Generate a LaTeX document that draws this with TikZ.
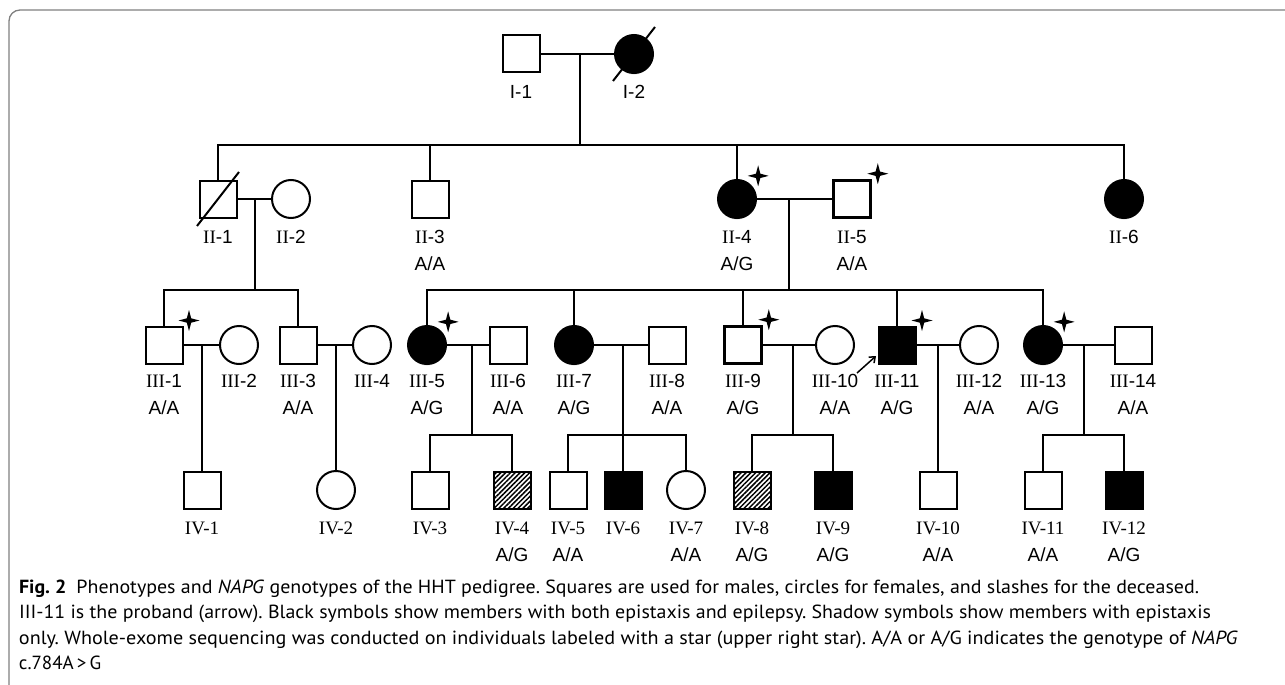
\documentclass[tikz,border=0pt]{standalone}
\usepackage{fontspec}
\usepackage{graphicx}
\setmainfont{Liberation Sans}
\newfontfamily\romfont{Liberation Serif}
\newfontfamily\capfont{PT Sans}
\usepackage{tikz}
\usetikzlibrary{arrows.meta,calc,positioning,shapes.geometric,patterns.meta,shadows}

\newcommand{\rn}[1]{{\romfont #1}}
\newcommand{\gAA}{A/A}
\newcommand{\gAG}{A/G}
\newcommand{\capline}[2]{\resizebox{#1}{\height}{#2}}
\frenchspacing

\begin{document}
\begin{tikzpicture}[x=1pt, y=-1pt, line width=2pt,
    sq/.style={draw, rectangle, minimum size=37pt, inner sep=0pt, line width=2pt, fill=white},
    ci/.style={draw, circle, minimum size=38pt, inner sep=0pt, line width=2pt, fill=white},
    aff/.style={fill=black, drop shadow={shadow xshift=0pt, shadow yshift=-1.5pt, opacity=0.3}},
    hatch/.style={pattern={Lines[angle=45, distance=3.4pt, line width=1.5pt]}},
    hsq/.style={sq, hatch},
    asq/.style={sq, aff},
    thick sq/.style={line width=3.6pt},
    wes/.style={star, star points=4, star point ratio=3.4, minimum size=21pt, inner sep=0pt, fill=black},
    lbl/.style={anchor=base, inner sep=0pt, font=\fontsize{19}{19}\selectfont},
    capt/.style={anchor=base west, inner sep=0pt, font=\capfont\fontsize{19}{25}\selectfont},
    pba/.style={-{Straight Barb[length=5pt,width=8pt]}, line width=1.5pt}]
\useasboundingbox (0,0) rectangle (1285,685);
\draw[black!50, line width=1.3pt, rounded corners=11pt] (9,10) rectangle (1310,696);

% generation I
\node[sq] (I1) at (521,54) {};
\node[ci, aff] (I2) at (634,54) {};
% generation II
\node[sq] (II1) at (218,199) {};
\node[ci] (II2) at (291,199) {};
\node[sq] (II3) at (430,199) {};
\node[ci, aff] (II4) at (737,199) {};
\node[sq, thick sq] (II5) at (852,199) {};
\node[ci, aff] (II6) at (1124,199) {};
% generation III
\node[sq] (III1) at (164,345) {};
\node[ci] (III2) at (239,345) {};
\node[sq] (III3) at (298,345) {};
\node[ci] (III4) at (372,345) {};
\node[ci, aff] (III5) at (427,345) {};
\node[sq] (III6) at (508,345) {};
\node[ci, aff] (III7) at (574,345) {};
\node[sq] (III8) at (667,345) {};
\node[sq, thick sq] (III9) at (743,345) {};
\node[ci] (III10) at (835,345) {};
\node[sq, aff] (III11) at (897,345) {};
\node[ci] (III12) at (979,345) {};
\node[ci, aff] (III13) at (1043,345) {};
\node[sq] (III14) at (1133,345) {};
% generation IV
\foreach \n/\x/\s in {IV1/202/sq, IV2/336/ci, IV3/430/sq, IV4/512/hsq,
    IV5/568/sq, IV6/623/asq, IV7/686/ci, IV8/752/hsq, IV9/833/asq,
    IV10/938/sq, IV11/1043/sq, IV12/1124/asq} {
  \node[\s] (\n) at (\x,490) {};
}

% deceased
\draw ([shift={(-21,27)}]I2.center) -- ([shift={(21,-27)}]I2.center);
\draw ([shift={(-21,27)}]II1.center) -- ([shift={(21,-27)}]II1.center);

% couples and lines of descent
\draw (I1) -- (I2);
\coordinate (jI) at (580,54);
\coordinate (jI-dn) at (580,145);
\draw (jI) -- (jI-dn);
\draw (II1.north) -- (II1.north |- jI-dn) -- (II6.north |- jI-dn) -- (II6.north);
\foreach \c in {II3,II4} \draw (\c.north) -- (\c.north |- jI-dn);

\foreach \a/\b in {II1/II2, II4/II5, III1/III2, III3/III4, III5/III6, III7/III8,
    III9/III10, III11/III12, III13/III14} \draw (\a) -- (\b);

\coordinate (j2) at (255,199);
\coordinate (j2-dn) at (255,290);
\draw (j2) -- (j2-dn);
\draw (III1.north) -- (III1.north |- j2-dn) -- (III3.north |- j2-dn) -- (III3.north);
\coordinate (j4) at (789,199);
\coordinate (j4-dn) at (789,290);
\draw (j4) -- (j4-dn);
\draw (III5.north) -- (III5.north |- j4-dn) -- (III13.north |- j4-dn) -- (III13.north);
\foreach \c in {III7,III9,III11} \draw (\c.north) -- (\c.north |- j4-dn);

\coordinate (j1) at (202,345);
\draw (j1) -- (IV1.north);
\coordinate (j3) at (336,345);
\draw (j3) -- (IV2.north);
\coordinate (j11) at (938,345);
\draw (j11) -- (IV10.north);
\foreach \j/\x/\a/\b in {j5/472/IV3/IV4, j7/623/IV5/IV7, j9/793/IV8/IV9, j13/1084/IV11/IV12} {
  \coordinate (\j) at (\x,345);
  \coordinate (\j-dn) at (\x,435);
  \draw (\j) -- (\j-dn);
  \draw (\a.north) -- (\a.north |- \j-dn) -- (\b.north |- \j-dn) -- (\b.north);
}
\draw (j7-dn) -- (IV6.north);

% sequenced (stars)
\foreach \n in {II5,III1,III9,III11} \node[wes] at ([shift={(5.5,-5)}]\n.north east) {};
\foreach \n in {II4,III5,III13} \node[wes] at ([shift={(7,-9)}]\n.north east) {};

% proband
\coordinate (pbt) at (857,373);
\coordinate (pbh) at (876,356);
\draw[pba] (pbt) -- (pbh);

% labels
\foreach \n/\t in {I1/I-1, I2/I-2,
    II1/\rn{II}-1, II2/\rn{II}-2, II3/\rn{II}-3, II4/\rn{II}-4, II5/\rn{II}-5, II6/\rn{II}-6,
    IV1/\rn{IV-1}, IV2/\rn{IV-2}, IV3/\rn{IV-3}, IV4/\rn{IV-4}, IV5/\rn{IV-5}, IV6/\rn{IV-6},
    IV7/\rn{IV-7}, IV8/\rn{IV-8}, IV9/\rn{IV-9}, IV10/\rn{IV-10}, IV11/\rn{IV-11}, IV12/\rn{IV-12}}
  \node[lbl] at ($(\n)+(0,44)$) {\t};
\foreach \n in {1,...,14}
  \node[lbl] at ($(III\n)+(0,42)$) {\rn{III}-\n};
\foreach \n/\g in {II3/\gAA, II4/\gAG, II5/\gAA, IV4/\gAG, IV5/\gAA, IV7/\gAA, IV8/\gAG,
    IV9/\gAG, IV10/\gAA, IV11/\gAA, IV12/\gAG}
  \node[lbl] at ($(\n)+(0,71)$) {\g};
\foreach \n/\g in {III1/\gAA, III3/\gAA, III5/\gAG, III6/\gAA, III7/\gAG, III8/\gAA, III9/\gAG,
    III10/\gAA, III11/\gAG, III12/\gAA, III13/\gAG, III14/\gAA}
  \node[lbl] at ($(\n)+(0,69)$) {\g};

% caption
\node[capt] (cap1) at (18,593) {\capline{1180pt}{\textbf{Fig. 2}\enspace Phenotypes and \textit{NAPG} genotypes of the HHT pedigree. Squares are used for males, circles for females, and slashes for the deceased.}};
\node[capt] (cap2) at (18,618) {\capline{1192pt}{III-11 is the proband (arrow). Black symbols show members with both epistaxis and epilepsy. Shadow symbols show members with epistaxis}};
\node[capt] (cap3) at (18,644) {\capline{1219pt}{only. Whole-exome sequencing was conducted on individuals labeled with a star (upper right star). A/A or A/G indicates the genotype of \textit{NAPG}}};
\node[capt] (cap4) at (18,669) {c.784A\,>\,G};
\end{tikzpicture}
\end{document}
